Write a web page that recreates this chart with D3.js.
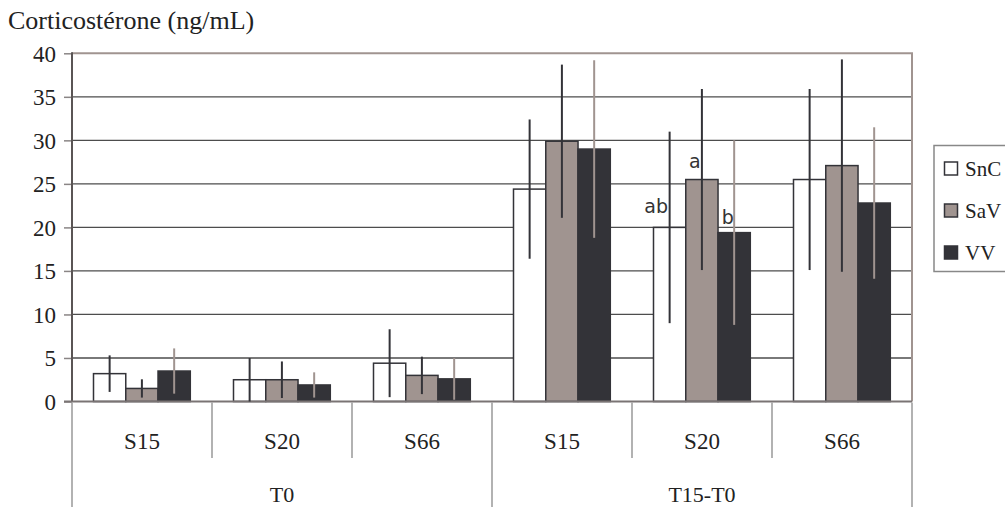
<!DOCTYPE html>
<html>
<head>
<meta charset="utf-8">
<script src="https://cdn.jsdelivr.net/npm/d3@7"></script>
<style>
  html, body { margin: 0; padding: 0; background: #fff; }
  svg { display: block; }
</style>
</head>
<body>
<svg id="chart" width="1005" height="507"></svg>
<script>
// ---- data ----
const groups = ["S15", "S20", "S66", "S15", "S20", "S66"];
const periods = ["T0", "T15-T0"];
const seriesNames = ["SnC", "SaV", "VV"];
const sncValues = [3.2, 2.5, 4.4, 24.4, 20.0, 25.5];
const savValues = [1.5, 2.5, 3.0, 29.9, 25.5, 27.1];
const vvValues  = [3.5, 1.9, 2.6, 29.0, 19.4, 22.8];
const sncErrors = [2.1, 2.5, 3.9, 8.0, 11.0, 10.4];
const savErrors = [1.05, 2.1, 2.15, 8.8, 10.4, 12.2];
const vvErrors  = [2.6, 1.45, 2.4, 10.2, 10.6, 8.7];
const yTicks = [0, 5, 10, 15, 20, 25, 30, 35, 40];
const annotations = [
  { group: 4, series: 0, text: "ab" },
  { group: 4, series: 1, text: "a" },
  { group: 4, series: 2, text: "b" }
];
const yTitle = "Corticostérone (ng/mL)";

(function () {
// ---- styles ----
const fills = ["#ffffff", "#a09490", "#333338"];
const errColors = ["#333338", "#333338", "#a09490"];
const serif = "'Liberation Serif', 'Times New Roman', serif";

const values = [sncValues, savValues, vvValues];
const errors = [sncErrors, savErrors, vvErrors];

const svg = d3.select("#chart");
const pLeft = 72, pRight = 912, pTop = 53.3, pBottom = 401.5;

const y = d3.scaleLinear().domain([0, 40]).range([pBottom, pTop]);
const xg = d3.scaleBand().domain(d3.range(groups.length)).range([pLeft, pRight]).paddingInner(0).paddingOuter(0);
const xs = d3.scaleBand().domain(d3.range(seriesNames.length)).range([21.5, 118.3]).paddingInner(0);

// gridlines
svg.append("g").selectAll("line").data(yTicks.filter(t => t > 0 && t < 40)).join("line")
  .attr("x1", pLeft).attr("x2", pRight)
  .attr("y1", d => y(d)).attr("y2", d => y(d))
  .attr("stroke", "#4d4d4d").attr("stroke-width", 1.3);

// plot border top / right
svg.append("line").attr("x1", pLeft).attr("x2", pRight + 1).attr("y1", y(40)).attr("y2", y(40))
  .attr("stroke", "#a09490").attr("stroke-width", 2);
svg.append("line").attr("x1", pRight).attr("x2", pRight).attr("y1", y(40)).attr("y2", pBottom)
  .attr("stroke", "#a09490").attr("stroke-width", 2);

// y axis via d3
const yAxis = d3.axisLeft(y).tickValues(yTicks).tickSize(8).tickPadding(8).tickFormat(d3.format("d"));
const yg = svg.append("g").attr("transform", `translate(${pLeft},0)`).call(yAxis);
yg.attr("font-family", null).attr("font-size", null);
yg.select(".domain").remove();
yg.selectAll(".tick line").attr("stroke", "#8a8585").attr("stroke-width", 1.5);
yg.selectAll(".tick text").style("font-family", serif).style("font-size", "23px").attr("fill", "#222")
  .attr("dy", "0.34em");
svg.append("line").attr("x1", pLeft).attr("x2", pLeft).attr("y1", y(40) - 1).attr("y2", pBottom)
  .attr("stroke", "#5a5555").attr("stroke-width", 2);

// bars
const bw = xs.bandwidth();
seriesNames.forEach((s, si) => {
  svg.append("g").selectAll("rect").data(values[si]).join("rect")
    .attr("x", (d, i) => xg(i) + xs(si))
    .attr("y", d => y(d))
    .attr("width", bw)
    .attr("height", d => y(0) - y(d))
    .attr("fill", fills[si])
    .attr("stroke", "#333338").attr("stroke-width", 1.5);
});

// baseline
svg.append("line").attr("x1", pLeft - 8).attr("x2", pRight).attr("y1", y(0)).attr("y2", y(0))
  .attr("stroke", "#7a7474").attr("stroke-width", 2);

// error bars
seriesNames.forEach((s, si) => {
  svg.append("g").selectAll("line").data(values[si]).join("line")
    .attr("x1", (d, i) => xg(i) + xs(si) + bw / 2)
    .attr("x2", (d, i) => xg(i) + xs(si) + bw / 2)
    .attr("y1", (d, i) => y(d + errors[si][i]))
    .attr("y2", (d, i) => y(Math.max(0, d - errors[si][i])))
    .attr("stroke", errColors[si]).attr("stroke-width", 2);
});

// annotations
const annOffsets = [{ dx: -13.5, dy: -14 }, { dx: -7, dy: -12 }, { dx: -6.5, dy: -8.5 }];
svg.append("g").selectAll("text").data(annotations).join("text")
  .attr("x", (d, k) => xg(d.group) + xs(d.series) + bw / 2 + annOffsets[k].dx)
  .attr("y", (d, k) => y(values[d.series][d.group]) + annOffsets[k].dy)
  .attr("text-anchor", "middle")
  .style("font-family", "'DejaVu Sans', sans-serif").style("font-size", "19px").attr("fill", "#333")
  .text(d => d.text);

// category axis (two levels)
const catLines = svg.append("g");
d3.range(groups.length + 1).forEach(i => {
  const x = i < groups.length ? xg(i) : pRight;
  const outer = (i % 3 === 0);
  catLines.append("line").attr("x1", x).attr("x2", x)
    .attr("y1", y(0) + 1).attr("y2", outer ? 507 : 458)
    .attr("stroke", "#999").attr("stroke-width", 1.5);
});
svg.append("g").selectAll("text").data(groups).join("text")
  .attr("x", (d, i) => xg(i) + xg.bandwidth() / 2)
  .attr("y", 449)
  .attr("text-anchor", "middle").style("font-family", serif).style("font-size", "23px").attr("fill", "#222")
  .text(d => d);
svg.append("g").selectAll("text").data(periods).join("text")
  .attr("x", (d, i) => (xg(i * 3) + (i === 0 ? xg(3) : pRight)) / 2)
  .attr("y", 502)
  .attr("text-anchor", "middle").style("font-family", serif).style("font-size", "22px").attr("fill", "#222")
  .text(d => d);

// title
svg.append("text").attr("x", 8).attr("y", 28.5)
  .style("font-family", serif).style("font-size", "26px").attr("fill", "#222")
  .text(yTitle);

// legend
const lg = svg.append("g");
lg.append("rect").attr("x", 934).attr("y", 145.5).attr("width", 120).attr("height", 126)
  .attr("fill", "#fff").attr("stroke", "#888").attr("stroke-width", 1.5);
seriesNames.forEach((s, si) => {
  const cy = 168.5 + si * 42;
  lg.append("rect").attr("x", 944.5).attr("y", cy - 6.5).attr("width", 13).attr("height", 13)
    .attr("fill", fills[si]).attr("stroke", "#333338").attr("stroke-width", 1.5);
  lg.append("text").attr("x", 965).attr("y", cy).attr("dy", "0.34em")
    .style("font-family", serif).style("font-size", "21px").attr("fill", "#222").text(s);
});
})();
</script>
</body>
</html>
